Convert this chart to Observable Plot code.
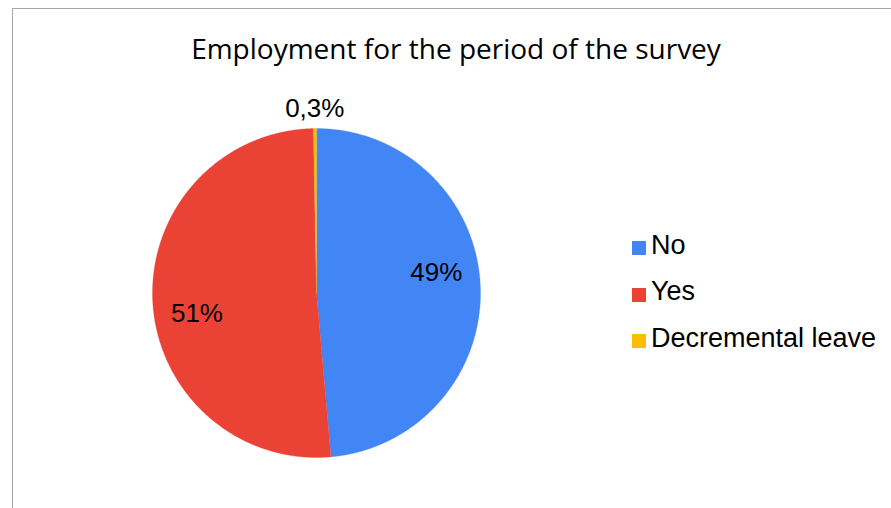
<!DOCTYPE html>
<html>
<head>
<meta charset="utf-8">
<script src="https://cdn.jsdelivr.net/npm/d3@7"></script>
<script src="https://cdn.jsdelivr.net/npm/@observablehq/plot@0.6"></script>
<style>
  html, body { margin: 0; padding: 0; background: #fff; }
  #wrap { position: relative; width: 891px; height: 508px; overflow: hidden; background: #fff; }
  #frame { position: absolute; left: 12px; top: 8px; width: 900px; height: 520px;
           border-left: 1.5px solid #a6a6a6; border-top: 1.5px solid #a6a6a6; box-sizing: border-box; }
  #title { position: absolute; left: 0; width: 912px; top: 29px; text-align: center;
           font-family: "Open Sans", sans-serif; font-size: 28px; color: #000; white-space: nowrap; }
  #legend { position: absolute; left: 632px; top: 222px; font-family: "Liberation Sans", Arial, sans-serif;
            font-size: 27px; color: #000; }
  .row { height: 46.5px; display: flex; align-items: center; white-space: nowrap; }
  .sw { width: 14px; height: 14px; margin-right: 5px; margin-top: 6px; }
  #chart { position: absolute; left: 0; top: 0; }
</style>
</head>
<body>
<div id="wrap">
  <div id="frame"></div>
  <div id="chart"></div>
  <div id="title">Employment for the period of the survey</div>
  <div id="legend"></div>
</div>
<script>
const categories = ["No", "Yes", "Decremental leave"];
const values = [48.6, 51.1, 0.3];
const labels = ["49%", "51%", "0,3%"];
const colors = ["#4285F4", "#EA4335", "#FBBC04"];

const pie = d3.pie().sort(null).value(d => d.value);
const arcs = pie(categories.map((c, i) => ({category: c, value: values[i], label: labels[i]})));

// polygon points for each slice (unit circle, angle 0 at 12 o'clock, clockwise)
const pts = [];
for (const a of arcs) {
  const c = a.data.category;
  pts.push({category: c, x: 0, y: 0});
  const n = Math.max(4, Math.ceil((a.endAngle - a.startAngle) / 0.005));
  for (let k = 0; k <= n; k++) {
    const t = a.startAngle + (a.endAngle - a.startAngle) * k / n;
    pts.push({category: c, x: Math.sin(t), y: Math.cos(t)});
  }
}

// label positions: inside for large slices, outside for tiny slice
const labelPts = arcs.map(a => {
  const mid = (a.startAngle + a.endAngle) / 2;
  const small = (a.endAngle - a.startAngle) < 0.2;
  const r = small ? 1.12 : 0.74;
  const t = small ? mid : mid - 0.12;
  return {label: a.data.label, x: r * Math.sin(t), y: r * Math.cos(t)};
});

const plot = Plot.plot({
  width: 891,
  height: 508,
  marginLeft: 152,
  marginRight: 891 - 480,
  marginTop: 128,
  marginBottom: 508 - 457,
  x: {domain: [-1, 1], axis: null},
  y: {domain: [-1, 1], axis: null},
  color: {domain: categories, range: colors},
  style: {background: "transparent", overflow: "visible"},
  marks: [
    Plot.line(pts, {x: "x", y: "y", z: "category", fill: "category", stroke: "category", strokeWidth: 0.3, curve: "linear-closed"}),
    Plot.text(labelPts, {x: "x", y: "y", text: "label", fontSize: 26, fill: "#000",
      fontFamily: "Liberation Sans, Arial, sans-serif", textAnchor: "middle", lineAnchor: "middle"})
  ]
});
document.getElementById("chart").appendChild(plot);

const legend = document.getElementById("legend");
categories.forEach((c, i) => {
  const row = document.createElement("div");
  row.className = "row";
  const sw = document.createElement("div");
  sw.className = "sw";
  sw.style.background = colors[i];
  const tx = document.createElement("span");
  tx.textContent = c;
  row.appendChild(sw);
  row.appendChild(tx);
  legend.appendChild(row);
});
</script>
</body>
</html>
